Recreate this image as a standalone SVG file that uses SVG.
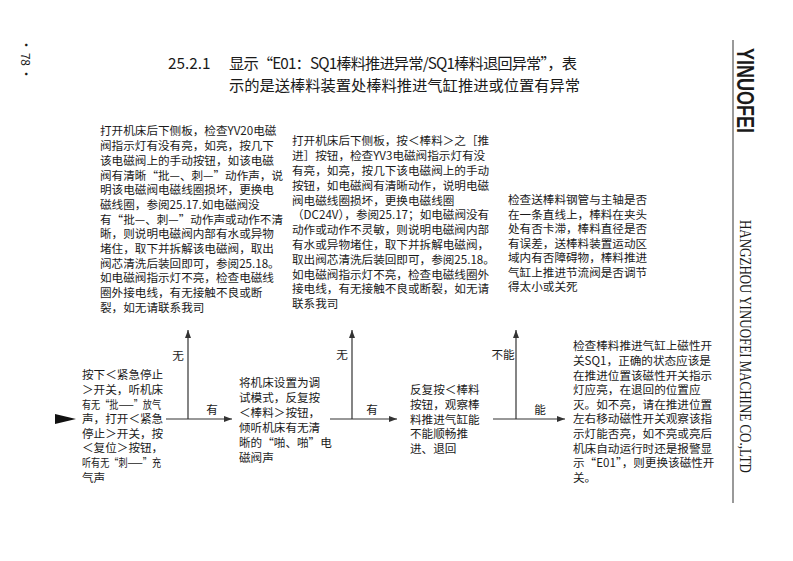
<svg xmlns="http://www.w3.org/2000/svg" width="793" height="561" viewBox="0 0 793 561">
<style>
text{font-family:"Noto Sans CJK SC","Noto Sans",sans-serif;fill:#1a1a1a;}
.t{font-size:11.6px;}
.title{font-size:15.3px;}
.lbl{font-size:11.6px;text-anchor:middle;}
.ln{stroke:#333;stroke-width:1.2;fill:none;}
</style>
<defs>
<marker id="ah" markerUnits="userSpaceOnUse" markerWidth="8" markerHeight="6" refX="8" refY="3" orient="auto">
<path d="M0,0 L8,3 L0,6 z" fill="#333"/>
</marker>
</defs>
<rect width="793" height="561" fill="#fff"/>

<g id="page-number">
<text transform="translate(21,39) rotate(90)" font-size="12" textLength="41" lengthAdjust="spacing">• 78 •</text>
</g>

<g id="header">
<line x1="733" y1="40" x2="733" y2="503" stroke="#777" stroke-width="1.5"/>
<text transform="translate(737,48) rotate(90)" style="font-family:'Liberation Sans',Arial,sans-serif;font-weight:bold;font-size:24px" textLength="85" lengthAdjust="spacingAndGlyphs">YINUOFEI</text>
<text transform="translate(740,220) rotate(90)" style="font-family:'Liberation Serif','Times New Roman',serif;font-size:17px" textLength="253" lengthAdjust="spacingAndGlyphs">HANGZHOU YINUOFEI MACHINE CO.,LTD</text>
</g>

<g id="title">
<text class="title" x="168" y="68.5">25.2.1</text>
<text class="title" x="229" y="68.5" textLength="348" lengthAdjust="spacing">显示“E01：SQ1棒料推进异常/SQ1棒料退回异常”，表</text>
<text class="title" x="229" y="91" textLength="351" lengthAdjust="spacing">示的是送棒料装置处棒料推进气缸推进或位置有异常</text>
</g>

<g id="node-yv20">
<text class="t" x="100" y="135.4">
<tspan x="100">打开机床后下侧板，检查YV20电磁</tspan>
<tspan x="100" dy="14.7">阀指示灯有没有亮，如亮，按几下</tspan>
<tspan x="100" dy="14.7">该电磁阀上的手动按钮，如该电磁</tspan>
<tspan x="100" dy="14.7">阀有清晰“批—、刺—”动作声，说</tspan>
<tspan x="100" dy="14.7">明该电磁阀电磁线圈损坏，更换电</tspan>
<tspan x="100" dy="14.7">磁线圈，参阅25.17.如电磁阀没</tspan>
<tspan x="100" dy="14.7">有“批—、刺—”动作声或动作不清</tspan>
<tspan x="100" dy="14.7">晰，则说明电磁阀内部有水或异物</tspan>
<tspan x="100" dy="14.7">堵住，取下并拆解该电磁阀，取出</tspan>
<tspan x="100" dy="14.7">阀芯清洗后装回即可，参阅25.18。</tspan>
<tspan x="100" dy="14.7">如电磁阀指示灯不亮，检查电磁线</tspan>
<tspan x="100" dy="14.7">圈外接电线，有无接触不良或断</tspan>
<tspan x="100" dy="14.7">裂，如无请联系我司</tspan>
</text>
</g>

<g id="node-yv3">
<text class="t" x="292" y="145.4">
<tspan x="292">打开机床后下侧板，按＜棒料＞之［推</tspan>
<tspan x="292" dy="14.8">进］按钮，检查YV3电磁阀指示灯有没</tspan>
<tspan x="292" dy="14.8">有亮，如亮，按几下该电磁阀上的手动</tspan>
<tspan x="292" dy="14.8">按钮，如电磁阀有清晰动作，说明电磁</tspan>
<tspan x="292" dy="14.8">阀电磁线圈损坏，更换电磁线圈</tspan>
<tspan x="292" dy="14.8">（DC24V），参阅25.17；如电磁阀没有</tspan>
<tspan x="292" dy="14.8">动作或动作不灵敏，则说明电磁阀内部</tspan>
<tspan x="292" dy="14.8">有水或异物堵住，取下并拆解电磁阀，</tspan>
<tspan x="292" dy="14.8">取出阀芯清洗后装回即可，参阅25.18。</tspan>
<tspan x="292" dy="14.8">如电磁阀指示灯不亮，检查电磁线圈外</tspan>
<tspan x="292" dy="14.8">接电线，有无接触不良或断裂，如无请</tspan>
<tspan x="292" dy="14.8">联系我司</tspan>
</text>
</g>

<g id="node-pipe">
<text class="t" x="508" y="204.4">
<tspan x="508">检查送棒料钢管与主轴是否</tspan>
<tspan x="508" dy="14.5">在一条直线上，棒料在夹头</tspan>
<tspan x="508" dy="14.5">处有否卡滞，棒料直径是否</tspan>
<tspan x="508" dy="14.5">有误差，送棒料装置运动区</tspan>
<tspan x="508" dy="14.5">域内有否障碍物，棒料推进</tspan>
<tspan x="508" dy="14.5">气缸上推进节流阀是否调节</tspan>
<tspan x="508" dy="14.5">得太小或关死</tspan>
</text>
</g>

<g id="node-estop">
<text class="t" x="82" y="379.4">按下＜紧急停止</text>
<text class="t" x="82" y="394">＞开关，听机床</text>
<text class="t" x="82" y="408.6" textLength="79" lengthAdjust="spacingAndGlyphs">有无“批——”放气</text>
<text class="t" x="82" y="423.2">声，打开＜紧急</text>
<text class="t" x="82" y="437.8">停止＞开关，按</text>
<text class="t" x="82" y="452.4">＜复位＞按钮，</text>
<text class="t" x="82" y="467" textLength="79" lengthAdjust="spacingAndGlyphs">听有无“刺——”充</text>
<text class="t" x="82" y="481.6">气声</text>
</g>

<g id="node-debug">
<text class="t" x="239" y="387.4">
<tspan x="239">将机床设置为调</tspan>
<tspan x="239" dy="15">试模式，反复按</tspan>
<tspan x="239" dy="15">＜棒料＞按钮，</tspan>
<tspan x="239" dy="15">倾听机床有无清</tspan>
<tspan x="239" dy="15">晰的“啪、啪”电</tspan>
<tspan x="239" dy="15">磁阀声</tspan>
</text>
</g>

<g id="node-push">
<text class="t" x="410" y="394.4">
<tspan x="410">反复按＜棒料</tspan>
<tspan x="410" dy="14.6">按钮，观察棒</tspan>
<tspan x="410" dy="14.6">料推进气缸能</tspan>
<tspan x="410" dy="14.6">不能顺畅推</tspan>
<tspan x="410" dy="14.6">进、退回</tspan>
</text>
</g>

<g id="node-sq1">
<text class="t" x="573" y="350.4">
<tspan x="573">检查棒料推进气缸上磁性开</tspan>
<tspan x="573" dy="14.6">关SQ1，正确的状态应该是</tspan>
<tspan x="573" dy="14.6">在推进位置该磁性开关指示</tspan>
<tspan x="573" dy="14.6">灯应亮，在退回的位置应</tspan>
<tspan x="573" dy="14.6">灭。如不亮，请在推进位置</tspan>
<tspan x="573" dy="14.6">左右移动磁性开关观察该指</tspan>
<tspan x="573" dy="14.6">示灯能否亮，如不亮或亮后</tspan>
<tspan x="573" dy="14.6">机床自动运行时还是报警显</tspan>
<tspan x="573" dy="14.6">示“E01”，则更换该磁性开</tspan>
<tspan x="573" dy="14.6">关。</tspan>
</text>
</g>

<g id="connectors">
<polygon points="55,414 76,419 55,424" fill="#111"/>
<path class="ln" d="M166,419 H232" marker-end="url(#ah)"/>
<path class="ln" d="M188,419 V330" marker-end="url(#ah)"/>
<path class="ln" d="M330,419 H397" marker-end="url(#ah)"/>
<path class="ln" d="M352,419 V330" marker-end="url(#ah)"/>
<path class="ln" d="M493,419 H565" marker-end="url(#ah)"/>
<path class="ln" d="M516,419 V330" marker-end="url(#ah)"/>
<text class="lbl" x="178" y="360.4">无</text>
<text class="lbl" x="212" y="414.4">有</text>
<text class="lbl" x="342" y="359.4">无</text>
<text class="lbl" x="372" y="414.4">有</text>
<text class="lbl" x="503" y="359.4">不能</text>
<text class="lbl" x="540" y="414.4">能</text>
</g>
</svg>
